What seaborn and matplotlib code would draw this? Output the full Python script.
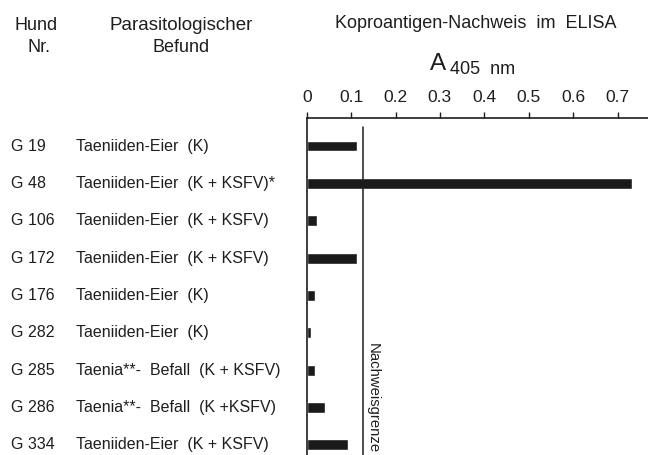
import pandas as pd
import seaborn as sns
import matplotlib.pyplot as plt
import matplotlib.transforms as mtransforms

# data
hund = ['G 19', 'G 48', 'G 106', 'G 172', 'G 176', 'G 282', 'G 285', 'G 286', 'G 334']
befund = ['Taeniiden-Eier  (K)', 'Taeniiden-Eier  (K + KSFV)*', 'Taeniiden-Eier  (K + KSFV)',
          'Taeniiden-Eier  (K + KSFV)', 'Taeniiden-Eier  (K)', 'Taeniiden-Eier  (K)',
          'Taenia**-  Befall  (K + KSFV)', 'Taenia**-  Befall  (K +KSFV)', 'Taeniiden-Eier  (K + KSFV)']
a405 = [0.114, 0.732, 0.023, 0.113, 0.019, 0.010, 0.019, 0.042, 0.094]
grenze = 0.126
ticks = [0, 0.1, 0.2, 0.3, 0.4, 0.5, 0.6, 0.7]

df = pd.DataFrame({'hund': hund, 'befund': befund, 'a405': a405})

sns.set_theme(style='white')
plt.rcParams['font.family'] = ['Liberation Sans', 'DejaVu Sans']

W, H = 648, 455
ink = '#1e1e1e'
fig = plt.figure(figsize=(W / 100, H / 100), dpi=100)
ax = fig.add_axes([306.7 / W, 0, 1 - 306.7 / W, 1 - 118 / H])

sns.barplot(data=df, x='a405', y='hund', orient='h', color='#1a1a1a',
            width=0.29, saturation=1, ax=ax)

ax.set_xlim(0, (W - 306.7) / 444)
ax.set_ylim(8.27, -0.75)
ax.set_xlabel('')
ax.set_ylabel('')
ax.set_yticks([])
ax.xaxis.tick_top()
ax.set_xticks(ticks)
ax.set_xticklabels([('%g' % t) for t in ticks], fontsize=12.5, color=ink)
ax.tick_params(axis='x', direction='out', length=4, width=1, color=ink, pad=5)
for s in ['right', 'bottom']:
    ax.spines[s].set_visible(False)
for s in ['left', 'top']:
    ax.spines[s].set_color(ink)
    ax.spines[s].set_linewidth(1.2)

# Nachweisgrenze
ax.axvline(grenze, ymin=0, ymax=0.973, color=ink, lw=1.1)
ax.text(grenze + 0.006, 6.74, 'Nachweisgrenze', rotation=-90, fontsize=10.7,
        color=ink, ha='left', va='center')

# row labels left of the axes
tr = mtransforms.blended_transform_factory(fig.transFigure, ax.transData)
for i in range(len(hund)):
    fig.text(11 / W, i, hund[i], transform=tr, fontsize=11.5, va='center', ha='left', color=ink)
    fig.text(76 / W, i, befund[i], transform=tr, fontsize=11.5, va='center', ha='left', color=ink)

# header
fig.text(36 / W, 1 - 25 / H, 'Hund', fontsize=13, ha='center', va='center', color=ink)
fig.text(39 / W, 1 - 47 / H, 'Nr.', fontsize=13, ha='center', va='center', color=ink)
fig.text(181 / W, 1 - 25 / H, 'Parasitologischer', fontsize=13.5, ha='center', va='center', color=ink)
fig.text(181 / W, 1 - 47 / H, 'Befund', fontsize=13, ha='center', va='center', color=ink)
fig.text(476 / W, 1 - 23 / H, 'Koproantigen-Nachweis  im  ELISA', fontsize=13, ha='center',
         va='center', color=ink)
fig.text(430 / W, 1 - 64 / H, 'A', fontsize=17.5, ha='left', va='center', color=ink)
fig.text(450 / W, 1 - 70 / H, '405  nm', fontsize=13, ha='left', va='center', color=ink)

fig.savefig('out.png', dpi=100)
